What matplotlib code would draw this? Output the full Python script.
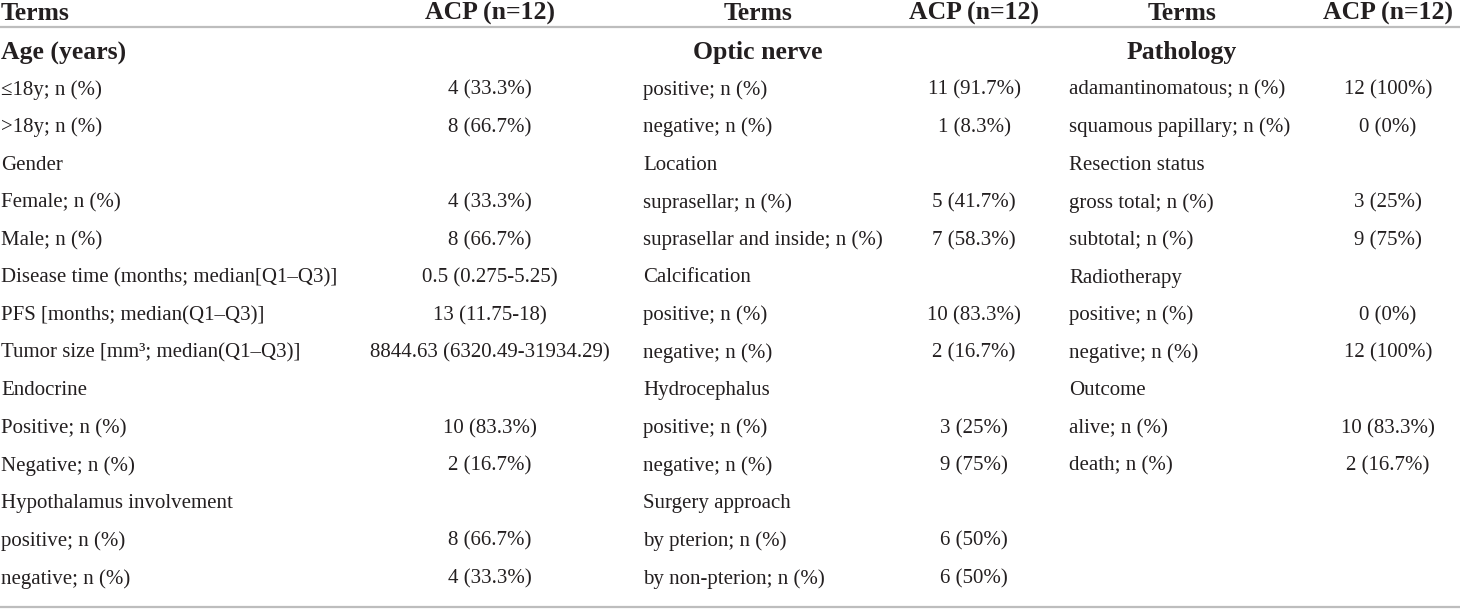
import matplotlib.pyplot as plt

plt.rcParams['font.family'] = ['Liberation Serif', 'DejaVu Serif']

# table content, one list per block
headers = ["Terms", "ACP (n=12)"]
sections = ["Age (years)", "Optic nerve", "Pathology"]

terms1 = ["≤18y; n (%)", ">18y; n (%)", "Gender", "Female; n (%)", "Male; n (%)",
          "Disease time (months; median[Q1–Q3)]", "PFS [months; median(Q1–Q3)]",
          "Tumor size [mm³; median(Q1–Q3)]", "Endocrine", "Positive; n (%)",
          "Negative; n (%)", "Hypothalamus involvement", "positive; n (%)",
          "negative; n (%)"]
acp1 = ["4 (33.3%)", "8 (66.7%)", "", "4 (33.3%)", "8 (66.7%)", "0.5 (0.275-5.25)",
        "13 (11.75-18)", "8844.63 (6320.49-31934.29)", "", "10 (83.3%)", "2 (16.7%)",
        "", "8 (66.7%)", "4 (33.3%)"]

terms2 = ["positive; n (%)", "negative; n (%)", "Location", "suprasellar; n (%)",
          "suprasellar and inside; n (%)", "Calcification", "positive; n (%)",
          "negative; n (%)", "Hydrocephalus", "positive; n (%)", "negative; n (%)",
          "Surgery approach", "by pterion; n (%)", "by non-pterion; n (%)"]
acp2 = ["11 (91.7%)", "1 (8.3%)", "", "5 (41.7%)", "7 (58.3%)", "", "10 (83.3%)",
        "2 (16.7%)", "", "3 (25%)", "9 (75%)", "", "6 (50%)", "6 (50%)"]

terms3 = ["adamantinomatous; n (%)", "squamous papillary; n (%)", "Resection status",
          "gross total; n (%)", "subtotal; n (%)", "Radiotherapy", "positive; n (%)",
          "negative; n (%)", "Outcome", "alive; n (%)", "death; n (%)"]
acp3 = ["12 (100%)", "0 (0%)", "", "3 (25%)", "9 (75%)", "", "0 (0%)", "12 (100%)",
        "", "10 (83.3%)", "2 (16.7%)"]

W, H = 1460, 610
fig = plt.figure(figsize=(W / 100, H / 100), dpi=100)
ax = fig.add_axes([0, 0, 1, 1])
ax.set_xlim(0, W)
ax.set_ylim(H, 0)
ax.axis('off')

txt = '#231f20'
body = 15
bold = 18.5

# block layout: terms, values, section, label x, header x, header align, value centre x
blocks = [
    (terms1, acp1, sections[0], 1, 1, 'left', 490),
    (terms2, acp2, sections[1], 643, 758, 'center', 974),
    (terms3, acp3, sections[2], 1069, 1182, 'center', 1388),
]

y_head = 13
y_sec = 53
y0 = 90
dy = 37.6

for terms, vals, sec, lx, hx, ha, vx in blocks:
    ax.text(hx, y_head, headers[0], ha=ha, va='center', fontsize=bold,
            fontweight='bold', color=txt)
    ax.text(vx, y_head, headers[1], ha='center', va='center', fontsize=bold,
            fontweight='bold', color=txt)
    ax.text(hx, y_sec, sec, ha=ha, va='center', fontsize=bold,
            fontweight='bold', color=txt)
    for i, (t, v) in enumerate(zip(terms, vals)):
        y = y0 + dy * i
        ax.text(lx, y, t, ha='left', va='center', fontsize=body, color=txt)
        if v:
            ax.text(vx, y, v, ha='center', va='center', fontsize=body, color=txt)

ax.plot([0, W], [27, 27], color='#bdbdbd', lw=1.6, solid_capstyle='butt')
ax.plot([0, W], [607, 607], color='#bdbdbd', lw=1.6, solid_capstyle='butt')

fig.savefig('out.png', dpi=100, facecolor='white')
